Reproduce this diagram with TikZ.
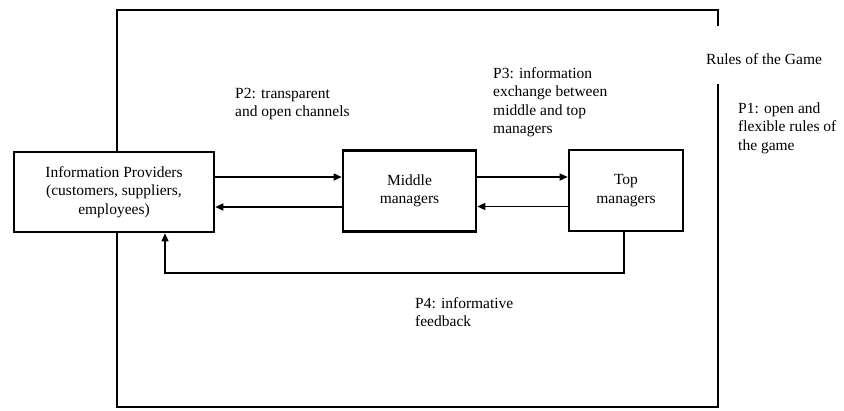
\documentclass[tikz,border=0pt]{standalone}
\usepackage{fontspec}
\setmainfont{Liberation Serif}
\newfontfamily\diagfont{Liberation Serif}
\usetikzlibrary{arrows.meta}

\begin{document}
\begin{tikzpicture}[x=1pt,y=-1pt,
  every node/.style={font=\diagfont\fontsize{15.5}{18.5}\selectfont},
  box/.style={draw, line width=2.6pt, fill=white, align=center, inner sep=0pt},
  frameline/.style={line width=2.6pt, line join=miter},
  flow/.style={line width=1.4pt, -{Triangle[length=8pt,width=7pt]}},
  note/.style={align=left, anchor=base west, inner sep=0pt}]
\useasboundingbox (0,0) rectangle (844,410);

% outer frame, open on the right for its caption
\draw[frameline] (718,26) -- (718,10) -- (117,10) -- (117,407) -- (718,407) -- (718,84);

% actors
\node[box, minimum width=200pt, minimum height=80pt] (info) at (114,192)
  {Information Providers\\(customers, suppliers,\\employees)};
\node[box, minimum width=133pt, minimum height=81pt] (mid) at (409.5,191)
  {Middle\\managers};
\node[box, minimum width=114pt, minimum height=81pt] (top) at (626,190.5)
  {Top\\managers};

% information flows
\draw[flow] ([yshift=15pt]info.east) -- ([yshift=15pt]info.east -| mid.west);
\draw[flow] ([yshift=-16pt]mid.west) -- ([yshift=-16pt]mid.west -| info.east);
\draw[flow] ([yshift=14pt]mid.east) -- ([yshift=14pt]mid.east -| top.west);
\draw[flow] ([yshift=-16pt]top.west) -- ([yshift=-16pt]top.west -| mid.east);
\coordinate (fbturn) at (624,273);
\draw[flow] ([xshift=-2pt]top.south) -- ([xshift=-2pt]top.south |- fbturn) -| ([xshift=51pt]info.south);

% propositions (each placed by the baseline of its last line)
\node[note] (p2) at (235,116.5) {P2: transparent\\and open channels};
\node[note] (p3) at (493,133.5) {P3: information\\exchange between\\middle and top\\managers};
\node[note] (rules) at (706,64) {Rules of the Game};
\node[note] (p1) at (738,150) {P1: open and\\flexible rules of\\the game};
\node[note] (p4) at (415,326.5) {P4: informative\\feedback};
\end{tikzpicture}
\end{document}
